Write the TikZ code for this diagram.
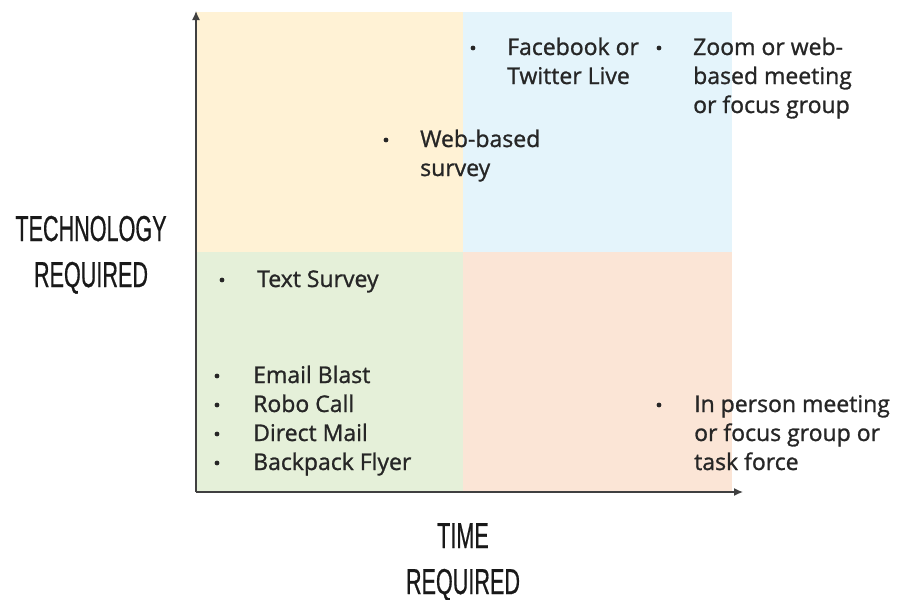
\documentclass[tikz,border=0pt]{standalone}
\usepackage{fontspec}
\setmainfont{Open Sans}[BoldFont={Open Sans},BoldFeatures={FakeBold=1.1}]
\newfontfamily\axisfont{Liberation Sans}[BoldFont={Liberation Sans},BoldFeatures={FakeBold=0.8}]
\usetikzlibrary{arrows.meta}
\begin{document}
\begin{tikzpicture}[x=1pt,y=-1pt,
  item/.style={anchor=base west,inner sep=0pt,align=left,font=\bfseries\fontsize{23}{29}\selectfont,text=black!85},
  dot/.style={circle,fill=black!85,inner sep=0pt,minimum size=4.8pt},
  axislabel/.style={anchor=base,inner sep=0pt,align=center,xscale=0.6,font=\axisfont\bfseries\fontsize{36}{46}\selectfont,text=black!90},
  axis/.style={draw=black!75,line width=1.3pt,-{Latex[length=9pt,width=8pt]}}]
\useasboundingbox (0,0) rectangle (898,600);
% quadrant backgrounds
\definecolor{qyellow}{HTML}{FFF2D5}
\definecolor{qblue}{HTML}{E4F4FB}
\definecolor{qgreen}{HTML}{E5F0D9}
\definecolor{qpeach}{HTML}{FBE5D6}
\fill[qyellow] (196,12) rectangle (463,252);
\fill[qblue] (463,12) rectangle (732,252);
\fill[qgreen] (196,252) rectangle (463,492);
\fill[qpeach] (463,252) rectangle (732,492);
% axes
\coordinate (origin) at (196,492);
\coordinate (ytip) at (196,11);
\coordinate (xtip) at (743,492);
\draw[axis] (origin) -- (ytip);
\draw[axis] (origin) -- (xtip);
% axis labels (anchored on the baseline of the last line)
\node[axislabel] (tech) at (91,287) {TECHNOLOGY\\REQUIRED};
\node[axislabel] (time) at (463,594) {TIME\\REQUIRED};
% items, top right
\node[dot] (d1) at (473,48) {};
\node[item] (fb) at (507,84) {Facebook or\\Twitter Live};
\node[dot] (d2) at (659,48) {};
\node[item] (zoom) at (693,113) {Zoom or web-\\based meeting\\or focus group};
% items, top left
\node[dot] (d3) at (386,140) {};
\node[item] (web) at (420,176) {Web-based\\survey};
% items, bottom left
\node[dot] (d4) at (222,280) {};
\node[item] (text) at (257,287) {Text Survey};
\node[dot] (d5) at (217,376) {};
\node[dot] (d6) at (217,405) {};
\node[dot] (d7) at (217,434) {};
\node[dot] (d8) at (217,463) {};
\node[item] (mass) at (253,470) {Email Blast\\Robo Call\\Direct Mail\\Backpack Flyer};
% items, bottom right
\node[dot] (d9) at (659,405) {};
\node[item] (person) at (694,470) {In person meeting\\or focus group or\\task force};
\end{tikzpicture}
\end{document}
